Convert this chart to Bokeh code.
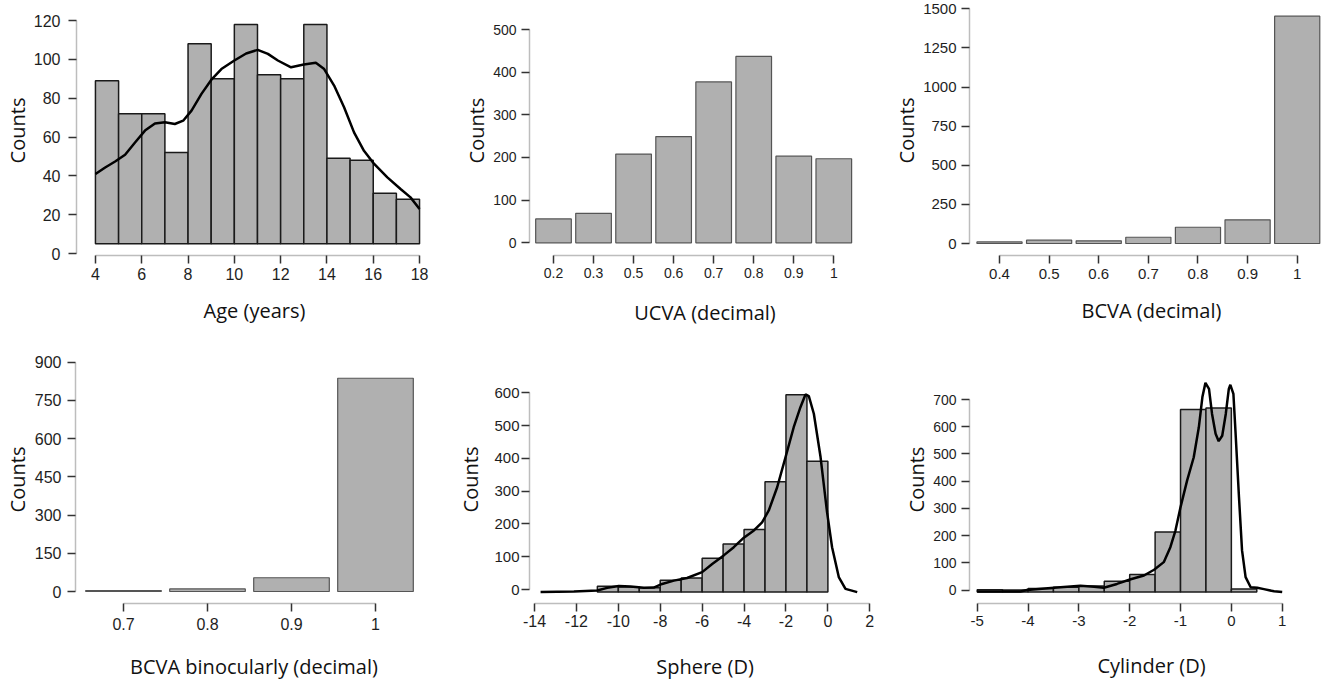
from bokeh.plotting import figure
from bokeh.layouts import column, row
from bokeh.models import Range1d, FixedTicker
from bokeh.embed import file_html
from bokeh.resources import INLINE

# ---------------- data ----------------
age_edges = [4, 5, 6, 7, 8, 9, 10, 11, 12, 13, 14, 15, 16, 17, 18]
age_counts = [89, 72, 72, 52, 108, 90, 118, 92, 90, 118, 49, 48, 31, 28]
age_base = 5
age_dens_x = [4, 4.42, 4.85, 5.28, 5.71, 6.14, 6.57, 7.0, 7.43, 7.79, 8.15, 8.58, 9.0, 9.44, 10.0,
              10.51, 11.01, 11.45, 11.88, 12.45, 13.0, 13.52, 13.88, 14.31, 14.74, 15.17, 15.6,
              16.04, 16.61, 17.18, 17.61, 18]
age_dens_y = [40.9, 44.3, 47.4, 50.9, 57.2, 63.3, 67, 67.6, 66.7, 68.4, 73.6, 82.2, 89.4, 95, 99.4,
              103, 104.9, 102.8, 99.4, 95.9, 97.3, 98.2, 95, 86.5, 75.3, 62.4, 52.9, 46.1, 39.2,
              33.2, 28.9, 22.9]
age_ticks = [4, 6, 8, 10, 12, 14, 16, 18]
age_yticks = [0, 20, 40, 60, 80, 100, 120]

ucva_labels = ["0.2", "0.3", "0.5", "0.6", "0.7", "0.8", "0.9", "1"]
ucva_counts = [56, 69, 208, 249, 377, 437, 203, 197]
ucva_yticks = [0, 100, 200, 300, 400, 500]

bcva_labels = ["0.4", "0.5", "0.6", "0.7", "0.8", "0.9", "1"]
bcva_counts = [10, 21, 17, 40, 104, 151, 1453]
bcva_yticks = [0, 250, 500, 750, 1000, 1250, 1500]

bino_labels = ["0.7", "0.8", "0.9", "1"]
bino_counts = [4, 10, 54, 837]
bino_yticks = [0, 150, 300, 450, 600, 750, 900]

sph_edges = [-11, -10, -9, -8, -7, -6, -5, -4, -3, -2, -1, 0]
sph_counts = [10, 8, 5, 28, 35, 95, 139, 183, 329, 594, 391]
sph_base = -8
sph_dens_x = [-13.71, -12.12, -11.01, -10.53, -9.98, -9.42, -8.78, -8.31, -7.91, -7.35, -6.72, -6.0,
              -5.52, -4.97, -4.49, -4.01, -3.53, -3.14, -2.82, -2.42, -2.02, -1.63, -1.31, -1.07,
              -0.91, -0.67, -0.35, -0.04, 0.2, 0.52, 0.84, 1.40]
sph_dens_y = [-8, -6, -3, 5, 11, 9, 5, 6, 17, 27, 35, 53, 78, 104, 129, 158, 180, 205, 241, 312, 404,
              495, 556, 595, 590, 536, 404, 236, 129, 38, 2, -8]
sph_ticks = [-14, -12, -10, -8, -6, -4, -2, 0, 2]
sph_tick_labels = ["-14", "-12", "-10", "-8", "-6", "-4", "-2", "0", "2"]
sph_yticks = [0, 100, 200, 300, 400, 500, 600]

cyl_edges = [-5, -4.5, -4, -3.5, -3, -2.5, -2, -1.5, -1, -0.5, 0, 0.5]
cyl_counts = [2, 1, 6, 11, 15, 33, 58, 214, 663, 669, 4]
cyl_base = -7
cyl_dens_x = [-5, -4.15, -4.02, -3.49, -2.97, -2.7, -2.51, -2.25, -1.98, -1.72, -1.52, -1.33, -1.2,
              -1.1, -1.0, -0.87, -0.74, -0.64, -0.57, -0.51, -0.44, -0.38, -0.31, -0.25, -0.18,
              -0.11, -0.05, -0.02, 0.04, 0.08, 0.15, 0.21, 0.28, 0.38, 0.51, 0.64, 0.84, 1.0]
cyl_dens_y = [-5, -5, 1, 9, 16, 13, 9, 23, 40, 54, 75, 103, 158, 219, 305, 403, 488, 598, 709, 761,
              739, 647, 574, 547, 567, 647, 739, 754, 721, 586, 341, 146, 48, 11, 9, 4, -4, -7]
cyl_ticks = [-5, -4, -3, -2, -1, 0, 1]
cyl_tick_labels = ["-5", "-4", "-3", "-2", "-1", "0", "1"]
cyl_yticks = [0, 100, 200, 300, 400, 500, 600, 700]

# ---------------- styling ----------------
BAR_FILL = "#b0b0b0"
TICK_FONT = "Liberation Sans"
TITLE_FONT = "Open Sans"

# column / row geometry (frames share borders within a row and a column)
COLS = [(0, 440, 75, 432), (440, 450, 529, 880), (890, 445, 969, 1333)]   # origin, width, frame left, frame right
ROWS = [(0, 330, 5, 255), (330, 356, 355, 603)]                            # origin, height, frame top, frame bottom


def make_panel(ci, ri, xmap, ymap, xticks, yticks, xlabel,
               xtick_size, ytick_size, xlab_off, ylab_off, xlab_standoff, ylab_standoff,
               xoverrides=None):
    ox, w, fl, fr = COLS[ci]
    oy, h, ft, fb = ROWS[ri]
    xs = (xmap[1][1] - xmap[0][1]) / (xmap[1][0] - xmap[0][0])
    x0 = xmap[0][0] - (xmap[0][1] - fl) / xs
    x1 = xmap[0][0] + (fr - xmap[0][1]) / xs
    ys = (ymap[0][1] - ymap[1][1]) / (ymap[1][0] - ymap[0][0])
    y0 = ymap[0][0] - (fb - ymap[0][1]) / ys
    y1 = ymap[0][0] + (ymap[0][1] - ft) / ys
    p = figure(width=w, height=h, x_range=Range1d(x0, x1), y_range=Range1d(y0, y1),
               min_border_left=fl - ox, min_border_right=ox + w - fr,
               min_border_top=ft - oy, min_border_bottom=oy + h - fb,
               toolbar_location=None, output_backend="svg")
    p.title = None
    p.outline_line_color = None
    p.grid.visible = False
    p.xaxis.ticker = FixedTicker(ticks=xticks)
    p.yaxis.ticker = FixedTicker(ticks=yticks)
    p.xaxis.bounds = (xticks[0], xticks[-1])
    p.yaxis.bounds = (yticks[0], yticks[-1])
    if xoverrides:
        p.xaxis.major_label_overrides = xoverrides
    for ax in (p.xaxis, p.yaxis):
        ax.axis_line_color = "#bdbdbd"
        ax.axis_line_width = 1.5
        ax.major_tick_line_color = "#333333"
        ax.major_tick_line_width = 1.5
        ax.major_tick_out = 8
        ax.major_tick_in = 0
        ax.minor_tick_line_color = None
        ax.major_label_text_font = TICK_FONT
        ax.major_label_text_color = "#1e1e1e"
        ax.axis_label_text_font = TITLE_FONT
        ax.axis_label_text_font_size = "20px"
        ax.axis_label_text_font_style = "normal"
        ax.axis_label_text_color = "#111111"
    p.xaxis.major_label_text_font_size = f"{xtick_size}px"
    p.yaxis.major_label_text_font_size = f"{ytick_size}px"
    p.xaxis.major_label_standoff = xlab_off
    p.yaxis.major_label_standoff = ylab_off
    p.yaxis.axis_label = "Counts"
    p.xaxis.axis_label = xlabel
    p.yaxis.axis_label_standoff = ylab_standoff
    p.xaxis.axis_label_standoff = xlab_standoff
    return p


def overrides(ticks, labels):
    return {t: lab for t, lab in zip(ticks, labels)}


# Panel 1: Age
p1 = make_panel(0, 0, [(4, 94), (18, 419)], [(0, 253), (120, 20)],
                age_ticks, age_yticks, "Age (years)", 16, 16, 4, 8, 14, 0)
p1.quad(left=age_edges[:-1], right=age_edges[1:], top=age_counts, bottom=age_base,
        fill_color=BAR_FILL, line_color="#1a1a1a", line_width=1.5)
p1.line(age_dens_x, age_dens_y, line_color="black", line_width=2.5)

# Panel 2: UCVA
idx2 = list(range(len(ucva_labels)))
p2 = make_panel(1, 0, [(0, 553), (7, 833.3)], [(0, 242.3), (500, 29)],
                idx2, ucva_yticks, "UCVA (decimal)", 14, 14, 4, 5, 18, 0, overrides(idx2, ucva_labels))
p2.vbar(x=idx2, top=ucva_counts, bottom=0, width=0.89, fill_color=BAR_FILL,
        line_color="#555555", line_width=1.2)

# Panel 3: BCVA
idx3 = list(range(len(bcva_labels)))
p3 = make_panel(2, 0, [(0, 999), (6, 1296.7)], [(0, 243), (1500, 8.3)],
                idx3, bcva_yticks, "BCVA (decimal)", 15, 15, 5, 5, 15, 0, overrides(idx3, bcva_labels))
p3.vbar(x=idx3, top=bcva_counts, bottom=0, width=0.91, fill_color=BAR_FILL,
        line_color="#555555", line_width=1.2)

# Panel 4: BCVA binocularly
idx4 = list(range(len(bino_labels)))
p4 = make_panel(0, 1, [(0, 123), (3, 375)], [(0, 591), (900, 361.7)],
                idx4, bino_yticks, "BCVA binocularly (decimal)", 16, 16, 6, 6, 20, 1,
                overrides(idx4, bino_labels))
p4.vbar(x=idx4, top=bino_counts, bottom=0, width=0.9, fill_color=BAR_FILL,
        line_color="#555555", line_width=1.2)

# Panel 5: Sphere
p5 = make_panel(1, 1, [(-14, 534), (2, 869.3)], [(0, 589), (600, 392.3)],
                sph_ticks, sph_yticks, "Sphere (D)", 16, 15, 3, 2, 23, 7,
                overrides(sph_ticks, sph_tick_labels))
p5.quad(left=sph_edges[:-1], right=sph_edges[1:], top=sph_counts, bottom=sph_base,
        fill_color=BAR_FILL, line_color="#1a1a1a", line_width=1.5)
p5.line(sph_dens_x, sph_dens_y, line_color="black", line_width=2.5)

# Panel 6: Cylinder
p6 = make_panel(2, 1, [(-5, 976.7), (1, 1281.7)], [(0, 589.7), (700, 399)],
                cyl_ticks, cyl_yticks, "Cylinder (D)", 15, 14, 4, 5, 23, 0,
                overrides(cyl_ticks, cyl_tick_labels))
p6.quad(left=cyl_edges[:-1], right=cyl_edges[1:], top=cyl_counts, bottom=cyl_base,
        fill_color=BAR_FILL, line_color="#1a1a1a", line_width=1.5)
p6.line(cyl_dens_x, cyl_dens_y, line_color="black", line_width=2.5)

layout = column(row(p1, p2, p3), row(p4, p5, p6))
open("out.html", "w").write(file_html(layout, INLINE))
